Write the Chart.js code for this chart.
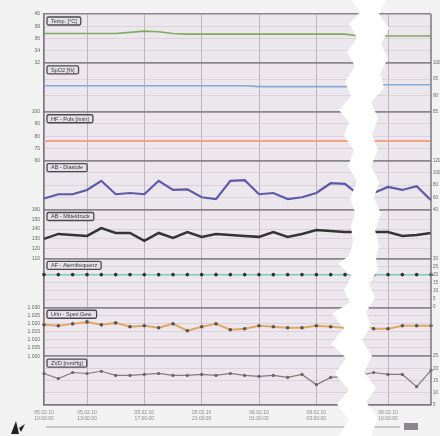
<!DOCTYPE html>
<html>
<head>
<meta charset="utf-8">
<script src="https://cdn.jsdelivr.net/npm/chart.js@4.4.0/dist/chart.umd.min.js"></script>
<style>
  html, body { margin: 0; padding: 0; background: #f3f2f3; }
  #wrap { width: 440px; height: 436px; }
</style>
</head>
<body>
<div id="wrap"><canvas id="myChart" width="440" height="436"></canvas></div>
<script>
// time axis, one point per measurement, labels only on a few of them
var timeLabels = [
  ['05.02.10', '10:00:00'], '', '', ['05.02.10', '13:00:00'], '', '', '',
  ['05.02.10', '17:00:00'], '', '', '', ['05.02.10', '21:00:00'], '', '', '',
  ['06.02.10', '01:00:00'], '', '', '', ['06.02.10', '05:00:00'], '', '', '', '',
  ['06.02.10', '10:00:00'], '', '', ''
];

// panel titles, top to bottom
var panelLabels = ['Temp. [°C]', 'SpO2 [%]', 'HF - Puls [/min]', 'AB - Diastole', 'AB - Mitteldruck', 'AF - Atemfrequenz', 'Urin - Spez.Gew.', 'ZVD [mmHg]'];

// series values
var tempData = [36.8, 36.8, 36.8, 36.8, 36.8, 36.8, 37.0, 37.2, 37.1, 36.8, 36.7, 36.7, 36.7, 36.7, 36.7, 36.7, 36.7, 36.7, 36.7, 36.7, 36.7, 36.7, 36.4, 36.4, 36.4, 36.4, 36.4, 36.4];
var spo2Data = [93, 93, 93, 93, 93, 93, 93, 93, 93, 93, 93, 93, 93, 93, 93, 92.7, 92.7, 92.7, 92.7, 92.7, 92.7, 92.7, 93, 93, 93.3, 93.3, 93.3, 93.3];
var pulseData = [76, 76, 76, 76, 76, 76, 76, 76, 76, 76, 76, 76, 76, 76, 76, 76, 76, 76, 76, 76, 76, 76, 76, 76, 76, 76, 76, 76];
var diastData = [58, 65, 65, 72, 87, 65, 67, 65, 87, 72, 73, 60, 57, 87, 88, 65, 67, 57, 60, 67, 83, 82, 63, 67, 77, 72, 78, 55];
var meanData = [130, 135, 134, 133, 141, 136, 136, 128, 136, 131, 137, 132, 135, 134, 133, 132, 137, 132, 135, 139, 138, 137, 137, 137, 137, 133, 134, 136];
var respData = [20, 20, 20, 20, 20, 20, 20, 20, 20, 20, 20, 20, 20, 20, 20, 20, 20, 20, 20, 20, 20, 20, 20, 20, 20, 20, 20, 20];
var sgData = [1.0192, 1.0186, 1.0198, 1.0210, 1.0192, 1.0204, 1.0180, 1.0186, 1.0174, 1.0198, 1.0156, 1.0180, 1.0198, 1.0162, 1.0168, 1.0186, 1.0180, 1.0174, 1.0174, 1.0186, 1.0180, 1.0174, 1.0204, 1.0168, 1.0168, 1.0186, 1.0186, 1.0186];
var cvpData = [17.9, 15.8, 18.3, 17.9, 18.8, 17.1, 17.1, 17.5, 17.9, 17.1, 17.1, 17.5, 17.1, 17.9, 17.1, 16.7, 17.1, 16.3, 17.5, 13.3, 16.3, 16.7, 17.1, 18.3, 17.5, 17.5, 12.5, 19.2];

// axis ranges per panel and on which side the tick labels are printed
var axisMin = [32, 85, 60, 40, 110, 0, 1.000, 5];
var axisMax = [40, 100, 100, 120, 160, 30, 1.030, 25];
var axisStep = [2, 5, 10, 20, 10, 5, 0.005, 5];
var tickSide = ['left', 'right', 'left', 'right', 'left', 'right', 'left', 'right'];

var FONT = 'Liberation Sans';

function fmtTick(i, v) {
  return i == 6 ? v.toFixed(3) : String(v);
}

function makeDataset(i, data, color, width, pointColor, pointRadius) {
  return {
    label: panelLabels[i],
    data: data,
    yAxisID: 'y' + i,
    borderColor: color,
    borderWidth: width,
    pointRadius: pointRadius || 0,
    pointBackgroundColor: pointColor || color,
    pointBorderWidth: 0,
    tension: 0,
    fill: false
  };
}

var datasets = [
  makeDataset(0, tempData, '#7dab5e', 1.6),
  makeDataset(1, spo2Data, '#86a9da', 1.6),
  makeDataset(2, pulseData, '#f2a286', 2),
  makeDataset(3, diastData, '#5d59a9', 2.2),
  makeDataset(4, meanData, '#343434', 2.5),
  makeDataset(5, respData, '#7ccab8', 1.5, '#333', 1.8),
  makeDataset(6, sgData, '#e3a662', 2, '#555', 1.8),
  makeDataset(7, cvpData, '#7d7d7d', 1.2, '#666', 1.6)
];

var scales = {
  x: {
    grid: {
      color: function(ctx) { return timeLabels[ctx.index] ? 'rgba(150,140,150,0.55)' : 'rgba(0,0,0,0)'; },
      tickLength: 0
    },
    border: { color: '#7a7a7a', width: 1.5 },
    ticks: { autoSkip: false, maxRotation: 0, padding: 5, color: '#888', font: { family: FONT, size: 5 } },
    afterFit: function(s) { s.height = 31; }
  }
};

for (var i = 0; i < 8; i++) {
  (function(i) {
    scales['y' + i] = {
      position: 'left',
      stack: 'L',
      stackWeight: 1,
      weight: 7 - i,
      min: axisMin[i],
      max: axisMax[i],
      grid: {
        drawTicks: false,
        color: function(ctx) {
          var v = ctx.tick.value;
          return (v >= axisMax[i] - 1e-9 || v <= axisMin[i] + 1e-9) ? '#8a8690' : 'rgba(205,180,200,0.55)';
        },
        lineWidth: function(ctx) {
          var v = ctx.tick.value;
          return (v >= axisMax[i] - 1e-9 || v <= axisMin[i] + 1e-9) ? 1.5 : 0.8;
        }
      },
      border: { color: '#7a7a7a', width: 1.5 },
      ticks: {
        display: tickSide[i] == 'left',
        autoSkip: false,
        stepSize: axisStep[i],
        padding: 4,
        color: '#666',
        font: { family: FONT, size: 5 },
        callback: function(v) { return fmtTick(i, v); }
      },
      afterFit: function(s) { s.width = 44; }
    };
  })(i);
}

var decorPlugin = {
  id: 'decor',
  beforeDraw: function(chart) {
    var c = chart.ctx, a = chart.chartArea;
    c.save();
    c.fillStyle = '#f3f2f3';
    c.fillRect(0, 0, chart.width, chart.height);
    c.fillStyle = '#ece7ec';
    c.fillRect(a.left, a.top, a.right - a.left, a.bottom - a.top);
    c.restore();
  },
  afterDatasetsDraw: function(chart) {
    var c = chart.ctx, a = chart.chartArea;
    c.save();
    // panel title boxes
    c.font = '5.5px ' + FONT;
    c.textBaseline = 'middle';
    for (var i = 0; i < 8; i++) {
      var s = chart.scales['y' + i];
      var w = c.measureText(panelLabels[i]).width + 8;
      var x = a.left + 3, y = s.top + 3;
      c.fillStyle = '#e4e2e6';
      c.strokeStyle = '#4a4a4a';
      c.lineWidth = 1.3;
      c.beginPath();
      c.roundRect(x, y, w, 8, 1.5);
      c.fill();
      c.stroke();
      c.fillStyle = '#333';
      c.fillText(panelLabels[i], x + 4, y + 4.3);
    }
    // right hand frame line and tick labels of the even panels
    c.strokeStyle = '#7a7a7a';
    c.lineWidth = 1.5;
    c.beginPath();
    c.moveTo(a.right, a.top);
    c.lineTo(a.right, a.bottom);
    c.stroke();
    c.font = '4.5px ' + FONT;
    c.fillStyle = '#666';
    c.textAlign = 'left';
    for (var i = 0; i < 8; i++) {
      if (tickSide[i] != 'right') continue;
      var s = chart.scales['y' + i];
      s.ticks.forEach(function(t) {
        c.fillText(fmtTick(i, t.value), a.right + 2, s.getPixelForValue(t.value));
      });
    }
    c.restore();
  },
  afterDraw: function(chart) {
    var c = chart.ctx;
    c.save();
    // scroll bar under the time axis
    c.strokeStyle = '#b8b6ba';
    c.lineWidth = 1.5;
    c.beginPath();
    c.moveTo(46, 427);
    c.lineTo(400, 427);
    c.stroke();
    c.fillStyle = '#8a888c';
    c.fillRect(404, 423, 14, 7);
    // small logo bottom left
    c.fillStyle = '#222';
    c.beginPath();
    c.moveTo(11, 434); c.lineTo(16, 421); c.lineTo(19, 434); c.closePath();
    c.fill();
    c.beginPath();
    c.moveTo(19, 428); c.lineTo(25, 424); c.lineTo(21, 432); c.closePath();
    c.fill();
    // white torn break across the chart
    var left = [[352,0],[360,12],[349,24],[357,38],[347,52],[355,66],[345,82],[351,96],[339,110],[349,122],[344,136],[354,150],[348,166],[357,182],[350,198],[355,212],[351,226],[353,242],[349,256],[338,264],[352,276],[344,290],[350,302],[332,314],[344,328],[331,344],[346,358],[335,374],[349,390],[337,404],[349,420],[338,436]];
    var right = [[386,0],[379,14],[389,28],[381,44],[388,58],[380,74],[384,88],[371,102],[378,118],[372,134],[378,150],[371,166],[379,182],[374,198],[381,214],[375,230],[379,246],[376,258],[378,270],[369,284],[375,298],[366,312],[371,326],[362,340],[372,356],[364,372],[376,388],[366,402],[378,418],[371,436]];
    c.fillStyle = '#ffffff';
    c.beginPath();
    c.moveTo(left[0][0], left[0][1]);
    for (var k = 1; k < left.length; k++) c.lineTo(left[k][0], left[k][1]);
    for (var k = right.length - 1; k >= 0; k--) c.lineTo(right[k][0], right[k][1]);
    c.closePath();
    c.fill();
    c.restore();
  }
};

var myChart = new Chart(document.getElementById('myChart').getContext('2d'), {
  type: 'line',
  data: { labels: timeLabels, datasets: datasets },
  options: {
    responsive: false,
    animation: false,
    layout: { padding: { top: 14, left: 0, right: 9, bottom: 0 } },
    plugins: { legend: { display: false }, tooltip: { enabled: false } },
    scales: scales
  },
  plugins: [decorPlugin]
});
</script>
</body>
</html>
